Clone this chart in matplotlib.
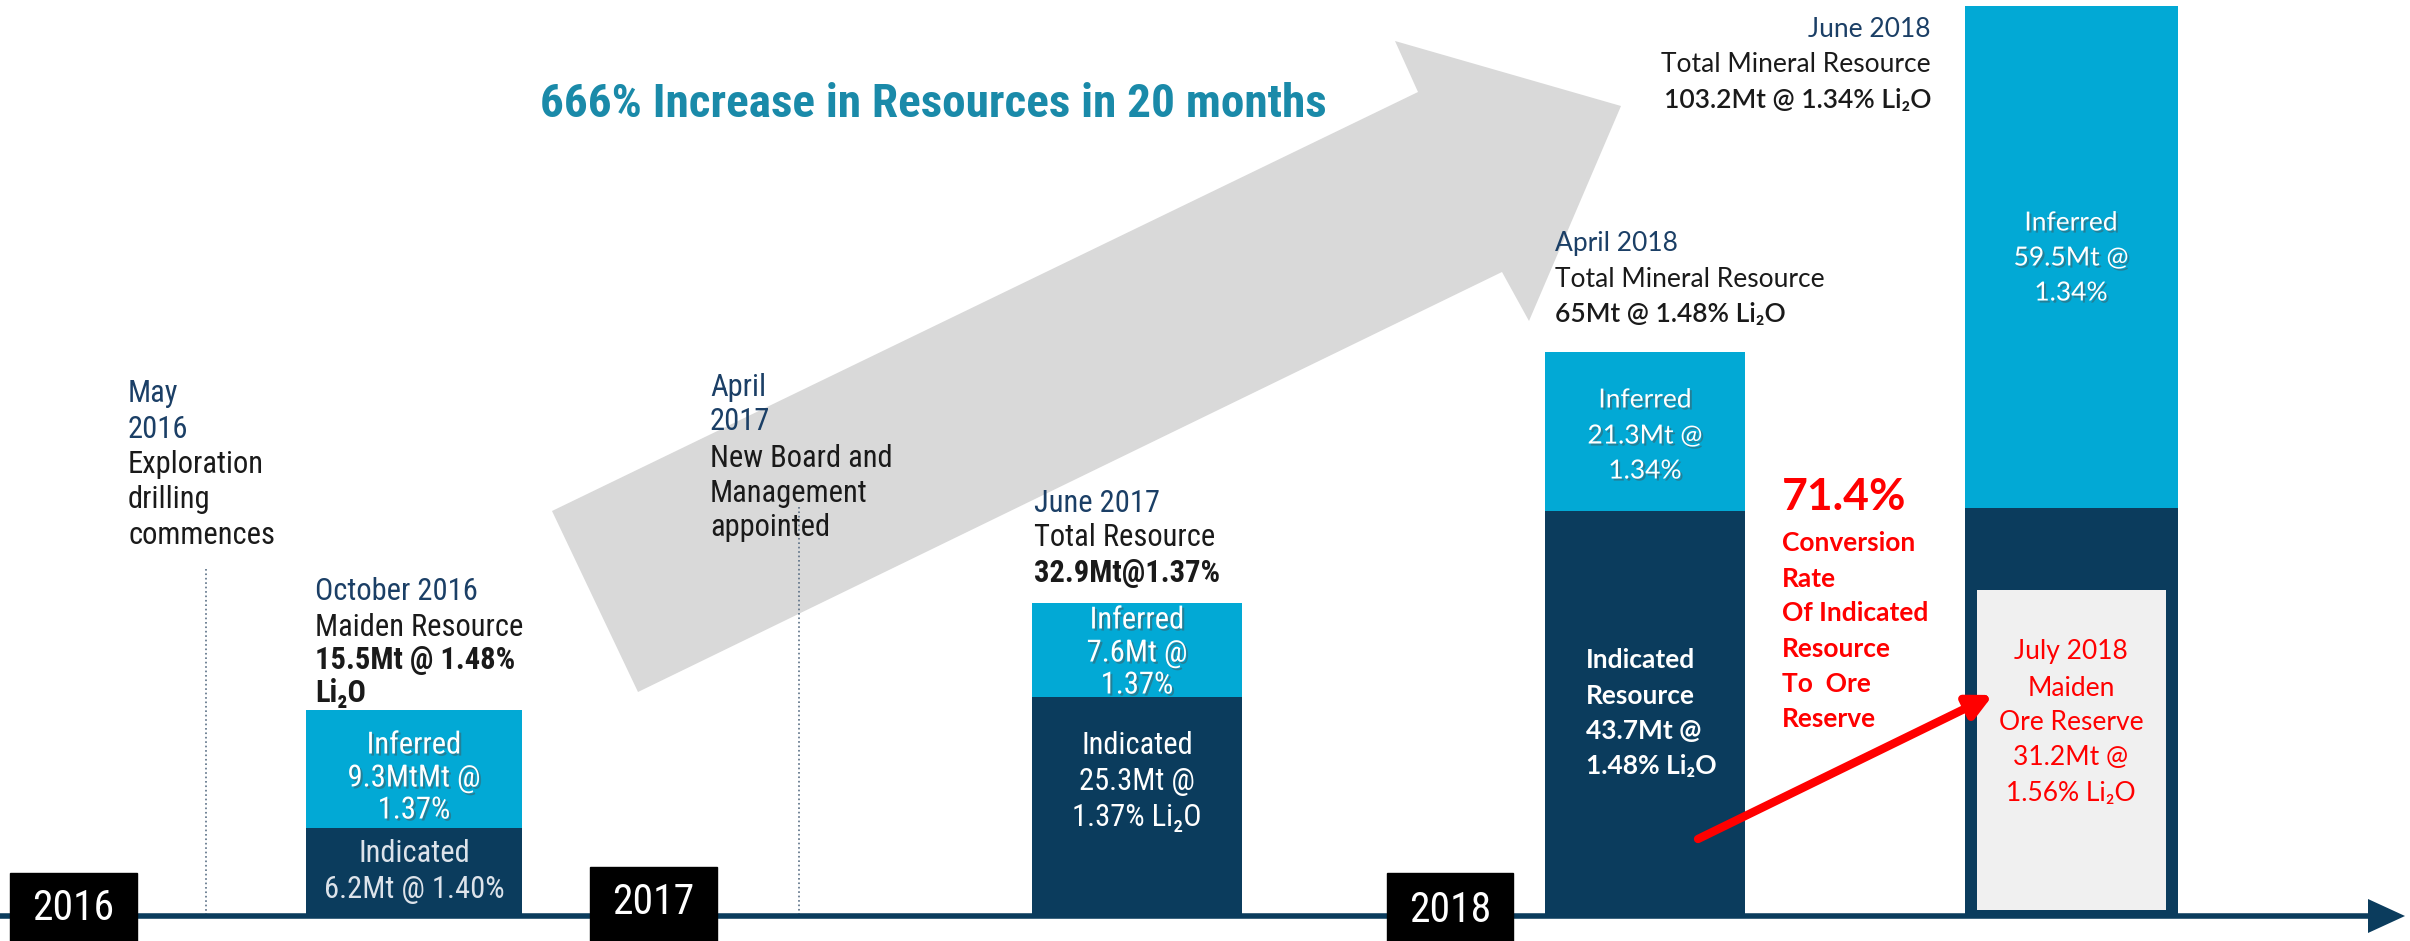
import matplotlib
matplotlib.use("Agg")
import matplotlib.pyplot as plt
import matplotlib.patheffects as pe
from matplotlib import font_manager as fm
from matplotlib.patches import Polygon, Rectangle

# data
periods = ['October 2016', 'June 2017', 'April 2018', 'June 2018']
indicated_mt = [6.2, 25.3, 43.7, 43.7]
inferred_mt = [9.3, 7.6, 21.3, 59.5]
total_mt = [15.5, 32.9, 65.0, 103.2]
# the graphic is not drawn to scale: heights
indicated_h = [88, 219, 405, 408]
inferred_h = [118, 94, 159, 502]
reserve_mt = 31.2
reserve_h = 320
years = ['2016', '2017', '2018']

inferred_labels = [['Inferred', '9.3MtMt @', '1.37%'],
                   ['Inferred', '7.6Mt @', '1.37%'],
                   ['Inferred', '21.3Mt @', '1.34%'],
                   ['Inferred', '59.5Mt @', '1.34%']]


def pick(names):
    for n in names:
        try:
            fm.findfont(fm.FontProperties(family=n), fallback_to_default=False)
            return n
        except ValueError:
            pass
    return 'DejaVu Sans'


NARROW = [pick(['Liberation Sans Narrow', 'Roboto Condensed']), 'DejaVu Sans']
MAIN = [pick(['Lato', 'Open Sans']), 'DejaVu Sans']

NAVY = '#0B3C5D'
CYAN = '#02A9D5'
TXT_NAVY = '#1B3F66'
BLACK = '#1A1A1A'
RED = '#FF0000'

BASE = 916


def Y(p):
    return BASE - p


fig = plt.figure(figsize=(24.1, 9.41), dpi=100)
ax = fig.add_axes([0, 0, 1, 1])
ax.set_xlim(0, 2410)
ax.set_ylim(BASE - 941, BASE)
ax.axis('off')

# big grey arrow
arrow_pts = [(552, 511), (1418, 92), (1395, 41), (1621, 106), (1529, 321), (1502, 272), (638, 692)]
ax.add_patch(Polygon([(x, Y(y)) for x, y in arrow_pts], closed=True, color='#D9D9D9', lw=0, zorder=0))

# bars
bar_x = [414, 1137, 1645, 2071]
bar_w = [216, 210, 200, 213]
ax.bar(bar_x, indicated_h, width=bar_w, color=NAVY, zorder=2)
ax.bar(bar_x, inferred_h, width=bar_w, bottom=indicated_h, color=CYAN, zorder=2)
ax.bar([2071.5], [reserve_h], width=189, bottom=6, color='#F0F0F0', zorder=3)

# dotted guide lines
ax.plot([206, 206], [Y(569), 0], ls=':', color='#5A6F85', lw=1.2, zorder=1)
ax.plot([799, 799], [Y(507), 0], ls=':', color='#5A6F85', lw=1.2, zorder=1)

# time axis
ax.plot([0, 2372], [0, 0], color=NAVY, lw=4, solid_capstyle='butt', zorder=4)
ax.add_patch(Polygon([(2368, 17), (2405, 0), (2368, -17)], closed=True, color=NAVY, lw=0, zorder=4))

# year boxes
for yr, (x0, x1, top, ty) in zip(years, [(10, 137, 873, 908), (590, 717, 867, 902), (1387, 1513, 873, 910)]):
    ax.add_patch(Rectangle((x0, Y(941)), x1 - x0, 941 - top, color='black', zorder=5))
    ax.text((x0 + x1) / 2, Y(ty), yr, family=NARROW, fontsize=30, color='white', ha='center', va='center', zorder=6)


def block(x, ys, lines, font, size, color, weight='normal', ha='left', shadow=False):
    effects = [pe.SimplePatchShadow(offset=(1.5, -1.5), alpha=0.45), pe.Normal()] if shadow else None
    for y, s in zip(ys, lines):
        ax.text(x, Y(y), s, family=font, fontsize=size, color=color, fontweight=weight,
                ha=ha, va='center', path_effects=effects, zorder=7)


# title
ax.text(933, Y(104), '666% Increase in Resources in 20 months', family=NARROW, fontsize=34,
        fontweight='bold', color='#1A8AA9', ha='center', va='center', zorder=7)

# milestones
block(128, [393, 429], ['May', '2016'], NARROW, 22, TXT_NAVY)
block(128, [464, 500, 535], ['Exploration', 'drilling', 'commences'], NARROW, 22, BLACK)
block(710, [387, 421], ['April', '2017'], NARROW, 22, TXT_NAVY)
block(710, [458, 493, 527], ['New Board and', 'Management', 'appointed'], NARROW, 22, BLACK)

# October 2016
block(315, [592], [periods[0]], NARROW, 22, TXT_NAVY)
block(315, [627], ['Maiden Resource'], NARROW, 22, BLACK)
block(315, [660, 693], [f'{total_mt[0]}Mt @ 1.48%', 'Li₂O'], NARROW, 22, BLACK, weight='semibold')
block(bar_x[0], [745, 778, 810], inferred_labels[0], NARROW, 22, 'white', ha='center', shadow=True)
block(bar_x[0], [854, 889], ['Indicated', f'{indicated_mt[0]}Mt @ 1.40%'], NARROW, 22, '#DDE3EA', ha='center')

# June 2017
block(1034, [503], [periods[1]], NARROW, 22, TXT_NAVY)
block(1034, [538], ['Total Resource'], NARROW, 22, BLACK)
block(1034, [573], [f'{total_mt[1]}Mt@1.37%'], NARROW, 22, BLACK, weight='semibold')
block(bar_x[1], [620, 653, 685], inferred_labels[1], NARROW, 22, 'white', ha='center', shadow=True)
block(bar_x[1], [746, 782, 817], ['Indicated', f'{indicated_mt[1]}Mt @', '1.37% Li₂O'], NARROW, 22, 'white', ha='center')

# April 2018
block(1555, [243], [periods[2]], MAIN, 19, TXT_NAVY)
block(1555, [279], ['Total Mineral Resource'], MAIN, 19, BLACK)
block(1555, [314], ['65Mt @ 1.48% Li₂O'], MAIN, 19, BLACK, weight='semibold')
block(bar_x[2], [400, 436, 471], inferred_labels[2], MAIN, 19, 'white', ha='center', shadow=True)
block(1586, [660, 696, 731, 766], ['Indicated', 'Resource', f'{indicated_mt[2]}Mt @', '1.48% Li₂O'],
      MAIN, 19, 'white', weight='bold')

# conversion note
block(1782, [497], ['71.4%'], MAIN, 32, RED, weight='bold')
block(1782, [543, 579, 613, 649, 684, 719],
      ['Conversion', 'Rate', 'Of Indicated', 'Resource', 'To  Ore', 'Reserve'], MAIN, 19, RED, weight='bold')

# June 2018
block(1931, [29], [periods[3]], MAIN, 19, TXT_NAVY, ha='right')
block(1931, [64], ['Total Mineral Resource'], MAIN, 19, BLACK, ha='right')
block(1931, [100], [f'{total_mt[3]}Mt @ 1.34% Li₂O'], MAIN, 19, BLACK, weight='semibold', ha='right')
block(bar_x[3], [223, 258, 293], inferred_labels[3], MAIN, 19, 'white', ha='center', shadow=True)
block(bar_x[3], [652, 688, 723, 758, 794],
      ['July 2018', 'Maiden', 'Ore Reserve', f'{reserve_mt}Mt @', '1.56% Li₂O'], MAIN, 19, RED, ha='center')

# red conversion arrow
ax.annotate('', xy=(1993, Y(695)), xytext=(1698, Y(839)),
            arrowprops=dict(arrowstyle='-|>', color=RED, lw=6, mutation_scale=36, shrinkA=0, shrinkB=0),
            zorder=8)

fig.savefig('out.png', dpi=100)
